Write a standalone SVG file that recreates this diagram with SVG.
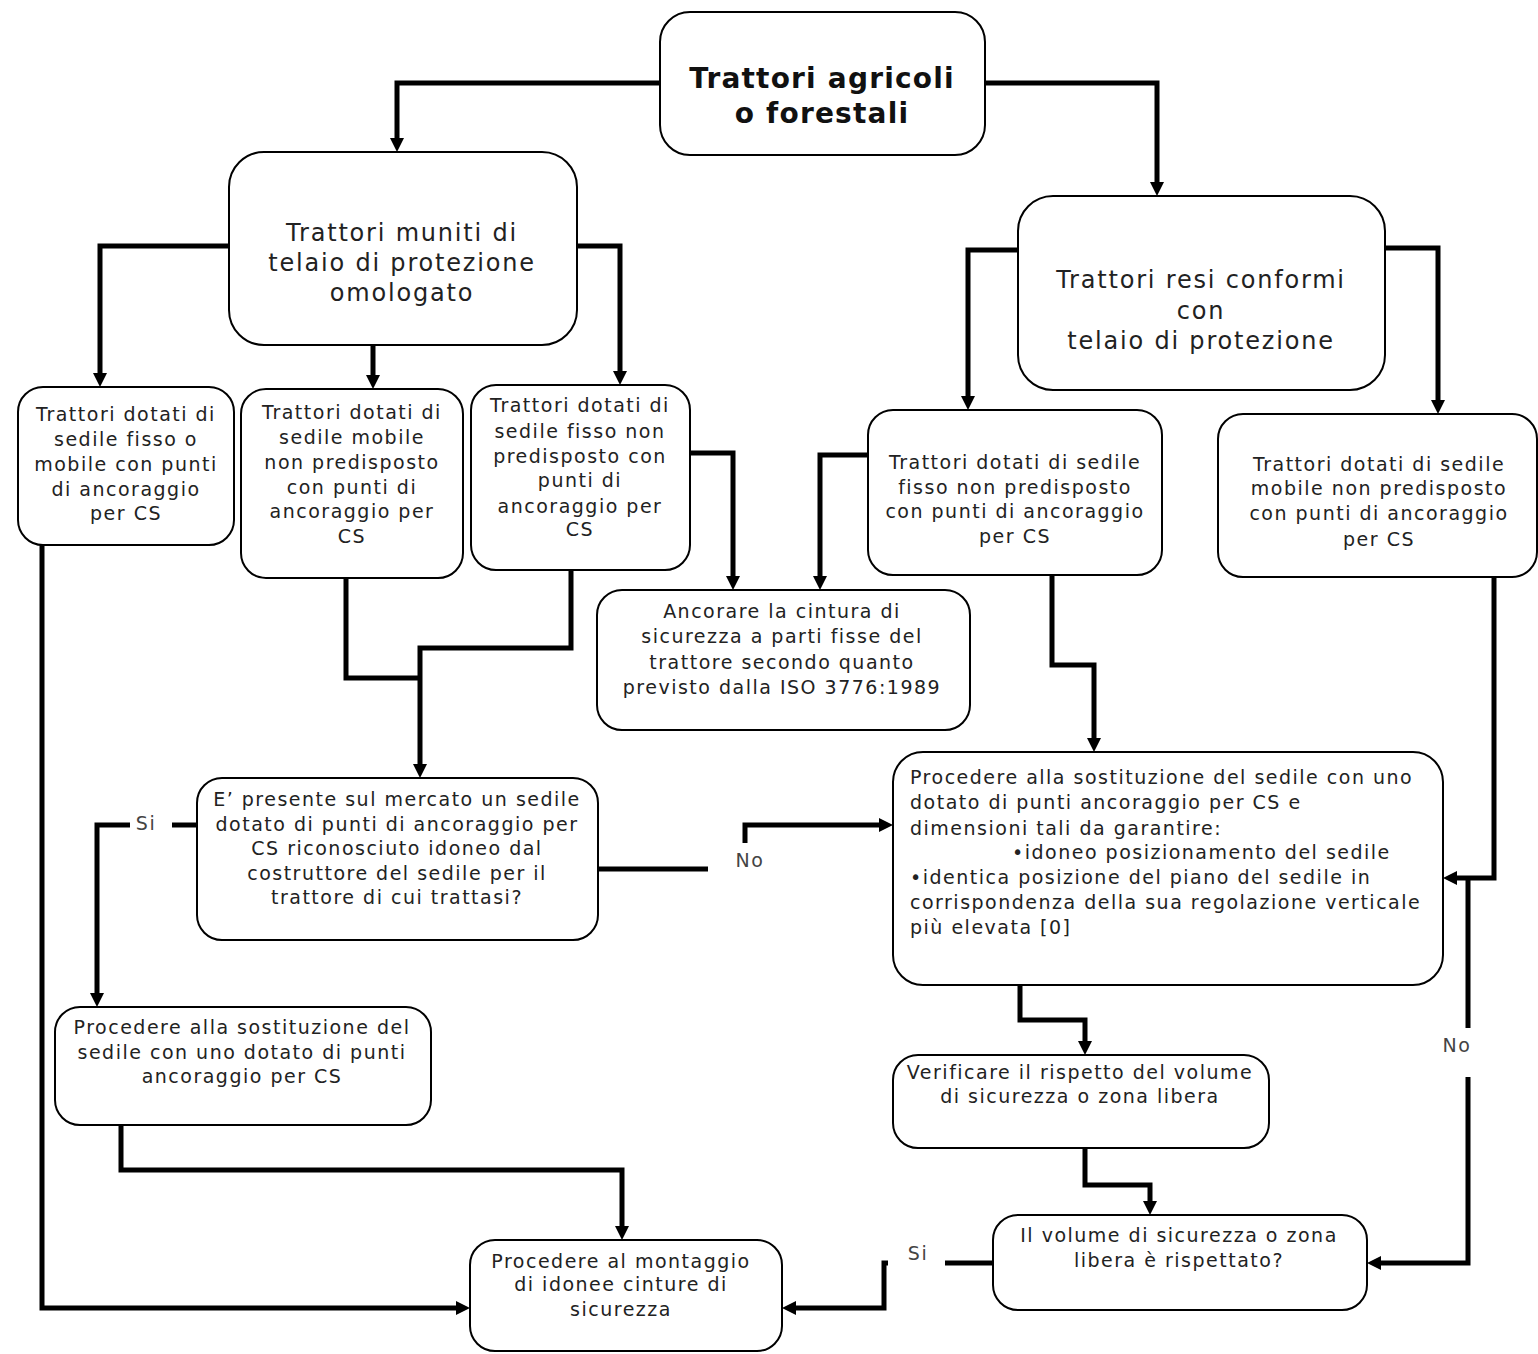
<svg xmlns="http://www.w3.org/2000/svg" width="1538" height="1354" viewBox="0 0 1538 1354">
<style>
.box{fill:#fff;stroke:#000;stroke-width:2}
.t{font-family:"DejaVu Sans",sans-serif;font-size:19px;letter-spacing:1.5px;fill:#222;text-anchor:middle}
.tl{font-family:"DejaVu Sans",sans-serif;font-size:19px;letter-spacing:1.5px;fill:#222;text-anchor:start}
.tb{font-family:"DejaVu Sans",sans-serif;font-size:24px;letter-spacing:1.8px;fill:#222;text-anchor:middle}
.title{font-family:"DejaVu Sans",sans-serif;font-size:28px;font-weight:bold;letter-spacing:1.2px;fill:#111;text-anchor:middle}
.lbl{font-family:"DejaVu Sans",sans-serif;font-size:19px;letter-spacing:1.5px;fill:#444;text-anchor:middle}
.c{fill:none;stroke:#000;stroke-width:5}
.ca{fill:none;stroke:#000;stroke-width:5;marker-end:url(#ah)}
</style>
<defs>
<marker id="ah" viewBox="0 0 10 10" refX="0" refY="5" markerWidth="14" markerHeight="14" markerUnits="userSpaceOnUse" orient="auto"><path d="M0,0 L10,5 L0,10 z" fill="#000"/></marker>
</defs>
<rect width="1538" height="1354" fill="#fff"/>
<g id="connectors">
<path class="ca" d="M660 83 H397 V138"/>
<path class="ca" d="M985 83 H1157 V182"/>
<path class="ca" d="M229 246 H100 V373"/>
<path class="ca" d="M373 345 V375"/>
<path class="ca" d="M577 246 H620 V371"/>
<path class="ca" d="M1018 250 H968 V396"/>
<path class="ca" d="M1385 248 H1438 V400"/>
<path class="ca" d="M690 453 H733 V576"/>
<path class="ca" d="M868 455 H820 V576"/>
<path class="ca" d="M42 545 V1308 H456"/>
<path class="c" d="M346 578 V678 H421"/>
<path class="ca" d="M571 570 V648 H420 V764"/>
<path class="c" d="M197 825 H172"/>
<path class="ca" d="M130 825 H97 V993"/>
<path class="c" d="M598 869 H708"/>
<path class="ca" d="M745 843 V825 H879"/>
<path class="ca" d="M1052 575 V665 H1094 V738"/>
<path class="ca" d="M1494 577 V878 H1457"/>
<path class="c" d="M1468 878 V1028"/>
<path class="ca" d="M1468 1077 V1263 H1381"/>
<path class="ca" d="M1020 985 V1020 H1085 V1041"/>
<path class="ca" d="M1085 1148 V1185 H1150 V1201"/>
<path class="c" d="M993 1263 H945"/>
<path class="ca" d="M888 1263 H884 V1308 H796"/>
<path class="ca" d="M121 1125 V1170 H622 V1226"/>
<text class="lbl" x="146" y="830">Si</text>
<text class="lbl" x="750" y="867">No</text>
<text class="lbl" x="1457" y="1052">No</text>
<text class="lbl" x="918" y="1260">Si</text>
</g>
<g id="n1">
<rect class="box" x="660" y="12" width="325" height="143" rx="30"/>
<text class="title" x="822" y="88">Trattori agricoli</text>
<text class="title" x="822" y="123">o forestali</text>
</g>
<g id="n2">
<rect class="box" x="229" y="152" width="348" height="193" rx="35"/>
<text class="tb" x="402" y="241">Trattori muniti di</text>
<text class="tb" x="402" y="271">telaio di protezione</text>
<text class="tb" x="402" y="301">omologato</text>
</g>
<g id="n3">
<rect class="box" x="1018" y="196" width="367" height="194" rx="35"/>
<text class="tb" x="1201" y="288">Trattori resi conformi</text>
<text class="tb" x="1201" y="319">con</text>
<text class="tb" x="1201" y="349">telaio di protezione</text>
</g>
<g id="n4">
<rect class="box" x="18" y="387" width="216" height="158" rx="25"/>
<text class="t" x="126" y="421">Trattori dotati di</text>
<text class="t" x="126" y="446">sedile fisso o</text>
<text class="t" x="126" y="471">mobile con punti</text>
<text class="t" x="126" y="496">di ancoraggio</text>
<text class="t" x="126" y="520">per CS</text>
</g>
<g id="n5">
<rect class="box" x="241" y="389" width="222" height="189" rx="25"/>
<text class="t" x="352" y="419">Trattori dotati di</text>
<text class="t" x="352" y="444">sedile mobile</text>
<text class="t" x="352" y="469">non predisposto</text>
<text class="t" x="352" y="494">con punti di</text>
<text class="t" x="352" y="518">ancoraggio per</text>
<text class="t" x="352" y="543">CS</text>
</g>
<g id="n6">
<rect class="box" x="471" y="385" width="219" height="185" rx="25"/>
<text class="t" x="580" y="412">Trattori dotati di</text>
<text class="t" x="580" y="438">sedile fisso non</text>
<text class="t" x="580" y="463">predisposto con</text>
<text class="t" x="580" y="487">punti di</text>
<text class="t" x="580" y="513">ancoraggio per</text>
<text class="t" x="580" y="536">CS</text>
</g>
<g id="n7">
<rect class="box" x="597" y="590" width="373" height="140" rx="25"/>
<text class="t" x="782" y="618">Ancorare la cintura di</text>
<text class="t" x="782" y="643">sicurezza a parti fisse del</text>
<text class="t" x="782" y="669">trattore secondo quanto</text>
<text class="t" x="782" y="694">previsto dalla ISO 3776:1989</text>
</g>
<g id="n8">
<rect class="box" x="868" y="410" width="294" height="165" rx="25"/>
<text class="t" x="1015" y="469">Trattori dotati di sedile</text>
<text class="t" x="1015" y="494">fisso non predisposto</text>
<text class="t" x="1015" y="518">con punti di ancoraggio</text>
<text class="t" x="1015" y="543">per CS</text>
</g>
<g id="n9">
<rect class="box" x="1218" y="414" width="319" height="163" rx="25"/>
<text class="t" x="1379" y="471">Trattori dotati di sedile</text>
<text class="t" x="1379" y="495">mobile non predisposto</text>
<text class="t" x="1379" y="520">con punti di ancoraggio</text>
<text class="t" x="1379" y="546">per CS</text>
</g>
<g id="n10">
<rect class="box" x="197" y="778" width="401" height="162" rx="25"/>
<text class="t" x="397" y="806">E’ presente sul mercato un sedile</text>
<text class="t" x="397" y="831">dotato di punti di ancoraggio per</text>
<text class="t" x="397" y="855">CS riconosciuto idoneo dal</text>
<text class="t" x="397" y="880">costruttore del sedile per il</text>
<text class="t" x="397" y="904">trattore di cui trattasi?</text>
</g>
<g id="n11">
<rect class="box" x="893" y="752" width="550" height="233" rx="30"/>
<text class="tl" x="910" y="784">Procedere alla sostituzione del sedile con uno</text>
<text class="tl" x="910" y="809">dotato di punti ancoraggio per CS e</text>
<text class="tl" x="910" y="835">dimensioni tali da garantire:</text>
<text class="tl" x="1012" y="859">•idoneo posizionamento del sedile</text>
<text class="tl" x="910" y="884">•identica posizione del piano del sedile in</text>
<text class="tl" x="910" y="909">corrispondenza della sua regolazione verticale</text>
<text class="tl" x="910" y="934">più elevata [0]</text>
</g>
<g id="n12">
<rect class="box" x="55" y="1007" width="376" height="118" rx="25"/>
<text class="t" x="242" y="1034">Procedere alla sostituzione del</text>
<text class="t" x="242" y="1059">sedile con uno dotato di punti</text>
<text class="t" x="242" y="1083">ancoraggio per CS</text>
</g>
<g id="n13">
<rect class="box" x="893" y="1055" width="376" height="93" rx="25"/>
<text class="t" x="1080" y="1079">Verificare il rispetto del volume</text>
<text class="t" x="1080" y="1103">di sicurezza o zona libera</text>
</g>
<g id="n14">
<rect class="box" x="993" y="1215" width="374" height="95" rx="25"/>
<text class="t" x="1179" y="1242">Il volume di sicurezza o zona</text>
<text class="t" x="1179" y="1267">libera è rispettato?</text>
</g>
<g id="n15">
<rect class="box" x="470" y="1240" width="312" height="111" rx="25"/>
<text class="t" x="621" y="1268">Procedere al montaggio</text>
<text class="t" x="621" y="1291">di idonee cinture di</text>
<text class="t" x="621" y="1316">sicurezza</text>
</g>
</svg>
